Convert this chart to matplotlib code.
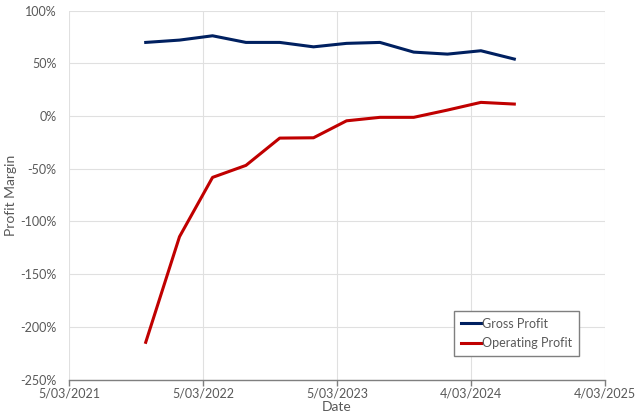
import matplotlib
matplotlib.use("Agg")
import matplotlib.pyplot as plt
from matplotlib.ticker import FuncFormatter
import pandas as pd

# quarterly values
dates = ["2021-09-30", "2021-12-31", "2022-03-31", "2022-06-30", "2022-09-30", "2022-12-31",
         "2023-03-31", "2023-06-30", "2023-09-30", "2023-12-31", "2024-03-31", "2024-06-30"]
gross = [69.9, 72.1, 76.2, 69.9, 69.9, 65.7, 69.0, 69.9, 60.7, 58.8, 62.0, 54.1]
operating = [-214.7, -114.5, -58.2, -46.8, -20.9, -20.6, -4.5, -1.2, -1.2, 5.7, 13.0, 11.4]

x_ticks = ["5/03/2021", "5/03/2022", "5/03/2023", "4/03/2024", "4/03/2025"]
y_ticks = [100, 50, 0, -50, -100, -150, -200, -250]

plt.rcParams['font.family'] = ['Lato', 'DejaVu Sans']
txt = '#595959'

dt = pd.to_datetime(dates)
tick_dt = pd.to_datetime(x_ticks, dayfirst=True)

fig = plt.figure(figsize=(6.4, 4.18), dpi=100)
ax = fig.add_axes([0.1078, 0.0921, 0.8375, 0.8823])

ax.plot(dt, gross, color='#002060', lw=2.2, label='Gross Profit', solid_joinstyle='round')
ax.plot(dt, operating, color='#C00000', lw=2.2, label='Operating Profit', solid_joinstyle='round')

ax.set_xlim(tick_dt[0], tick_dt[-1])
ax.set_ylim(-250, 100)
ax.set_xticks(tick_dt)
ax.set_xticklabels(x_ticks)
ax.set_yticks(y_ticks)
ax.yaxis.set_major_formatter(FuncFormatter(lambda v, p: f"{v:.0f}%"))

ax.grid(True, color='#e0e0e0', lw=0.8)
ax.set_axisbelow(True)
for s in ['top', 'right', 'left']:
    ax.spines[s].set_visible(False)
ax.spines['bottom'].set_color('#7f7f7f')
ax.spines['bottom'].set_linewidth(1.0)
ax.tick_params(axis='x', colors='#7f7f7f', labelcolor=txt, length=4, width=1.0, labelsize=9, pad=2)
ax.tick_params(axis='y', length=0, labelcolor=txt, labelsize=9, pad=9)

ax.set_xlabel('Date', color=txt, fontsize=10, labelpad=1)
ax.set_ylabel('Profit Margin', color=txt, fontsize=10)
ax.yaxis.set_label_coords(-0.097, 0.5)

leg = ax.legend(loc='lower right', bbox_to_anchor=(0.9515, 0.0637), borderaxespad=0,
                fancybox=False, framealpha=1, edgecolor='#7f7f7f', fontsize=9,
                handlelength=1.6, handletextpad=0.1, labelspacing=0.6, borderpad=0.55)
leg.get_frame().set_linewidth(1.0)
for t in leg.get_texts():
    t.set_color(txt)

fig.savefig('out.png', dpi=100)
